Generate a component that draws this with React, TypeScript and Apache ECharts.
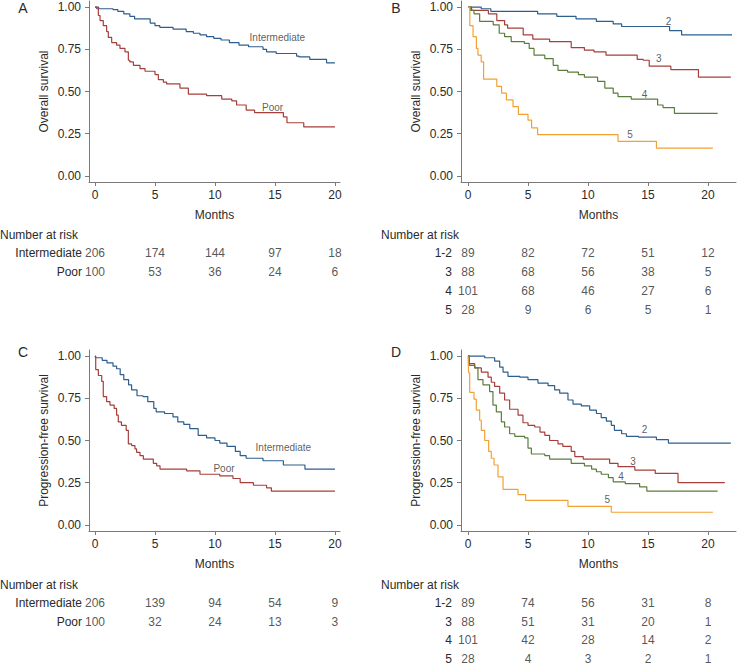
import React, { useEffect, useRef } from "react";
import * as echarts from "echarts";

// ---------- Data ----------
const tickValuesX = [0, 5, 10, 15, 20];
const tickValuesY = [0, 0.25, 0.5, 0.75, 1];
const riskTimes = [0, 5, 10, 15, 20];

// Panel A: Overall survival by risk group
const osIntT = [0, 0.3, 1.5, 1.9, 2.4, 2.9, 3.3, 4.6, 5.0, 5.4, 6.5, 7.6, 8.2, 8.75, 9.3, 9.9, 10.5, 11.2, 12.0, 12.8, 14.0, 14.3, 15.1, 16.8, 17.0, 17.9, 19.3, 20.0];
const osIntS = [1, 0.99, 0.985, 0.975, 0.96, 0.945, 0.93, 0.905, 0.89, 0.88, 0.87, 0.855, 0.845, 0.835, 0.825, 0.815, 0.805, 0.79, 0.775, 0.765, 0.75, 0.735, 0.725, 0.71, 0.705, 0.69, 0.67, 0.67];
const osPoorT = [0, 0.14, 0.28, 0.42, 0.69, 0.97, 1.11, 1.39, 1.8, 2.08, 2.5, 2.78, 2.9, 3.2, 3.75, 4.17, 5.0, 5.28, 5.7, 5.97, 7.08, 7.78, 9.3, 10.56, 11.4, 11.8, 12.6, 13.3, 15.7, 16.0, 17.4, 20.0];
const osPoorS = [1, 0.99, 0.95, 0.92, 0.89, 0.855, 0.82, 0.79, 0.775, 0.755, 0.735, 0.685, 0.675, 0.655, 0.635, 0.62, 0.6, 0.57, 0.555, 0.545, 0.52, 0.485, 0.475, 0.455, 0.445, 0.42, 0.39, 0.375, 0.35, 0.315, 0.29, 0.29];

// Panel B: Overall survival by score
const osS2T = [0, 1.1, 1.9, 5.8, 7.4, 9.0, 10.7, 12.1, 12.8, 16.8, 17.8, 22.0];
const osS2S = [1, 0.99, 0.975, 0.96, 0.945, 0.93, 0.915, 0.9, 0.885, 0.86, 0.835, 0.835];
const osS3T = [0, 0.3, 1.7, 2.4, 3.05, 3.3, 4.6, 5.4, 6.8, 8.6, 9.7, 10.5, 11.5, 14.1, 14.6, 15.1, 16.9, 19.2, 21.9];
const osS3S = [1, 0.98, 0.96, 0.92, 0.895, 0.875, 0.835, 0.81, 0.795, 0.76, 0.745, 0.735, 0.715, 0.69, 0.685, 0.65, 0.63, 0.585, 0.585];
const osS4T = [0, 0.2, 0.5, 0.97, 2.1, 2.6, 3.05, 3.6, 4.7, 5.1, 5.5, 6.4, 7.1, 7.5, 8.3, 9.2, 9.7, 10.8, 11.4, 12.1, 12.5, 13.6, 15.8, 16.25, 17.2, 20.8];
const osS4S = [1, 0.98, 0.96, 0.915, 0.895, 0.845, 0.825, 0.795, 0.785, 0.755, 0.715, 0.695, 0.655, 0.625, 0.615, 0.6, 0.585, 0.56, 0.52, 0.49, 0.47, 0.455, 0.42, 0.405, 0.37, 0.37];
const osS5T = [0, 0.15, 0.42, 0.7, 0.83, 1.1, 1.3, 2.4, 2.8, 3.2, 3.75, 4.2, 5.0, 5.3, 5.8, 12.5, 15.7, 20.4];
const osS5S = [1, 0.89, 0.825, 0.755, 0.715, 0.675, 0.573, 0.53, 0.49, 0.45, 0.41, 0.365, 0.33, 0.285, 0.245, 0.205, 0.165, 0.165];

// Panel C: Progression-free survival by risk group
const pfsIntT = [0, 0.05, 0.6, 1.0, 1.5, 1.8, 2.1, 2.4, 2.8, 3.05, 3.5, 4.0, 4.4, 4.9, 5.1, 5.8, 6.5, 6.9, 7.4, 7.9, 8.6, 9.3, 10.0, 10.4, 11.0, 11.7, 12.1, 12.6, 14.0, 15.7, 17.5, 20.0];
const pfsIntS = [1, 0.99, 0.975, 0.96, 0.94, 0.925, 0.89, 0.86, 0.83, 0.8, 0.765, 0.76, 0.73, 0.69, 0.67, 0.66, 0.64, 0.61, 0.595, 0.57, 0.53, 0.515, 0.5, 0.485, 0.465, 0.435, 0.41, 0.395, 0.38, 0.355, 0.33, 0.33];
const pfsPoorT = [0, 0.06, 0.28, 0.56, 0.69, 0.97, 1.25, 1.6, 1.8, 1.94, 2.2, 2.6, 2.78, 3.05, 3.33, 3.47, 3.75, 4.03, 4.86, 5.14, 5.42, 7.64, 8.75, 10.4, 11.5, 12.1, 13.2, 14.3, 14.7, 20.0];
const pfsPoorS = [1, 0.92, 0.885, 0.85, 0.76, 0.73, 0.71, 0.69, 0.65, 0.61, 0.59, 0.56, 0.48, 0.47, 0.45, 0.43, 0.41, 0.39, 0.365, 0.35, 0.33, 0.32, 0.3, 0.29, 0.275, 0.25, 0.235, 0.22, 0.2, 0.2];

// Panel D: Progression-free survival by score
const pfsS2T = [0, 1.39, 2.22, 2.64, 2.92, 3.33, 4.31, 5.0, 5.83, 6.67, 7.22, 7.64, 8.33, 8.75, 9.44, 10.14, 10.7, 11.1, 11.53, 11.94, 12.2, 12.8, 13.2, 14.2, 15.7, 16.7, 21.9];
const pfsS2S = [1, 0.99, 0.97, 0.935, 0.905, 0.88, 0.875, 0.86, 0.84, 0.825, 0.8, 0.78, 0.74, 0.715, 0.705, 0.68, 0.66, 0.635, 0.615, 0.59, 0.56, 0.54, 0.525, 0.52, 0.505, 0.485, 0.485];
const pfsS3T = [0, 0.1, 0.56, 1.11, 1.67, 1.94, 2.22, 2.64, 3.05, 3.47, 4.17, 4.58, 5.0, 5.56, 6.0, 6.4, 6.8, 7.5, 7.9, 8.6, 8.9, 9.6, 11.8, 12.5, 13.9, 15.6, 17.5, 21.4];
const pfsS3S = [1, 0.955, 0.93, 0.905, 0.875, 0.845, 0.82, 0.78, 0.74, 0.685, 0.65, 0.605, 0.59, 0.58, 0.55, 0.53, 0.5, 0.48, 0.465, 0.435, 0.405, 0.39, 0.365, 0.345, 0.325, 0.305, 0.25, 0.25];
const pfsS4T = [0, 0.1, 0.56, 0.83, 1.25, 1.8, 2.08, 2.36, 2.78, 3.05, 3.47, 3.9, 4.72, 5.0, 5.28, 6.4, 6.8, 8.6, 9.7, 10.3, 10.7, 11.1, 11.7, 12.1, 13.1, 14.3, 14.9, 20.8];
const pfsS4S = [1, 0.945, 0.93, 0.86, 0.83, 0.79, 0.71, 0.67, 0.61, 0.58, 0.54, 0.525, 0.515, 0.455, 0.42, 0.41, 0.39, 0.365, 0.35, 0.33, 0.315, 0.3, 0.28, 0.255, 0.245, 0.225, 0.2, 0.2];
const pfsS5T = [0, 0.05, 0.14, 0.5, 0.69, 0.97, 1.11, 1.39, 1.72, 1.94, 2.17, 2.5, 2.92, 4.17, 4.8, 8.33, 11.94, 20.4];
const pfsS5S = [1, 0.9, 0.785, 0.745, 0.68, 0.62, 0.56, 0.5, 0.435, 0.395, 0.355, 0.285, 0.21, 0.18, 0.145, 0.11, 0.075, 0.075];

// Number at risk
const groupRows = ["Intermediate", "Poor"];
const scoreRows = ["1-2", "3", "4", "5"];
const osRiskInt = [206, 174, 144, 97, 18];
const osRiskPoor = [100, 53, 36, 24, 6];
const osRisk12 = [89, 82, 72, 51, 12];
const osRisk3 = [88, 68, 56, 38, 5];
const osRisk4 = [101, 68, 46, 27, 6];
const osRisk5 = [28, 9, 6, 5, 1];
const pfsRiskInt = [206, 139, 94, 54, 9];
const pfsRiskPoor = [100, 32, 24, 13, 3];
const pfsRisk12 = [89, 74, 56, 31, 8];
const pfsRisk3 = [88, 51, 31, 20, 1];
const pfsRisk4 = [101, 42, 28, 14, 2];
const pfsRisk5 = [28, 4, 3, 2, 1];

// Curve labels [x, y, text]
const labelsA = [[15.2, 0.817, "Intermediate"], [14.8, 0.408, "Poor"]];
const labelsB = [[16.7, 0.917, "2"], [15.9, 0.698, "3"], [14.7, 0.485, "4"], [13.5, 0.243, "5"]];
const labelsC = [[15.7, 0.46, "Intermediate"], [10.75, 0.337, "Poor"]];
const labelsD = [[14.7, 0.568, "2"], [13.75, 0.373, "3"], [12.75, 0.284, "4"], [11.6, 0.148, "5"]];

// ---------- Styling ----------
const FONT = "'Liberation Sans', Arial, Helvetica, sans-serif";
const BLUE = "#2d5e8e";
const RED = "#a63f3a";
const GREEN = "#5c7c3c";
const ORANGE = "#f3a133";
const AXIS = "#7a7a7a";
const TEXT = "#2a2a2a";

const km = (t: number[], s: number[]) => t.map((x, i) => [x, s[i]]);

export default function App() {
  const ref = useRef<HTMLDivElement>(null);

  useEffect(() => {
    if (!ref.current) return;
    const chart = echarts.init(ref.current, null, { renderer: "svg" });

    const plotGrids = [
      { left: 89, top: 1, width: 251, height: 181 },
      { left: 461, top: 1, width: 275, height: 181 },
      { left: 89, top: 350, width: 251, height: 181 },
      { left: 461, top: 350, width: 275, height: 181 },
    ];
    const xRanges = [
      [-0.5, 20.42],
      [-0.583, 22.33],
      [-0.5, 20.42],
      [-0.583, 22.33],
    ];
    const yNames = ["Overall survival", "Overall survival", "Progression-free survival", "Progression-free survival"];
    const riskGrids = [
      { left: 89, top: 243.9, width: 251, height: 38 },
      { left: 461, top: 243.9, width: 275, height: 75.2 },
      { left: 89, top: 593.9, width: 251, height: 38 },
      { left: 461, top: 593.9, width: 275, height: 75.2 },
    ];
    const riskRows = [groupRows, scoreRows, groupRows, scoreRows];
    const riskData = [
      [osRiskInt, osRiskPoor],
      [osRisk12, osRisk3, osRisk4, osRisk5],
      [pfsRiskInt, pfsRiskPoor],
      [pfsRisk12, pfsRisk3, pfsRisk4, pfsRisk5],
    ];
    const riskMargins = [7, 9, 7, 9];

    const grids: any[] = [...plotGrids, ...riskGrids];

    const xAxes: any[] = [];
    const yAxes: any[] = [];
    for (let i = 0; i < 4; i++) {
      xAxes.push({
        type: "value",
        gridIndex: i,
        min: xRanges[i][0],
        max: xRanges[i][1],
        name: "Months",
        nameLocation: "middle",
        nameGap: 27,
        nameTextStyle: { fontFamily: FONT, fontSize: 12, color: TEXT },
        axisLine: { show: true, onZero: false, lineStyle: { color: AXIS, width: 1 } },
        axisTick: { show: true, length: 4, customValues: tickValuesX, lineStyle: { color: AXIS } },
        axisLabel: { show: true, customValues: tickValuesX, margin: 7, fontFamily: FONT, fontSize: 12, color: TEXT },
        splitLine: { show: false },
      });
      yAxes.push({
        type: "value",
        gridIndex: i,
        min: -0.036,
        max: 1.036,
        name: yNames[i],
        nameLocation: "middle",
        nameGap: 39,
        nameTextStyle: { fontFamily: FONT, fontSize: 12, color: TEXT },
        axisLine: { show: true, onZero: false, lineStyle: { color: AXIS, width: 1 } },
        axisTick: { show: true, length: 4, customValues: tickValuesY, lineStyle: { color: AXIS } },
        axisLabel: {
          show: true,
          customValues: tickValuesY,
          margin: 8,
          fontFamily: FONT,
          fontSize: 12,
          color: TEXT,
          formatter: (v: number) => v.toFixed(2),
        },
        splitLine: { show: false },
      });
    }
    for (let i = 0; i < 4; i++) {
      xAxes.push({
        type: "value",
        gridIndex: 4 + i,
        min: xRanges[i][0],
        max: xRanges[i][1],
        show: false,
      });
      yAxes.push({
        type: "category",
        gridIndex: 4 + i,
        data: riskRows[i],
        inverse: true,
        axisLine: { show: false },
        axisTick: { show: false },
        splitLine: { show: false },
        axisLabel: { margin: riskMargins[i], fontFamily: FONT, fontSize: 12, color: TEXT },
      });
    }

    const line = (idx: number, t: number[], s: number[], color: string) => ({
      type: "line",
      xAxisIndex: idx,
      yAxisIndex: idx,
      data: km(t, s),
      step: "end",
      showSymbol: false,
      symbol: "none",
      silent: true,
      lineStyle: { color, width: 1.2 },
      z: 3,
    });

    const labelSeries = (idx: number, labels: any[]) => ({
      type: "scatter",
      xAxisIndex: idx,
      yAxisIndex: idx,
      symbolSize: 0,
      silent: true,
      itemStyle: { color: "#333333" },
      data: labels.map((l) => ({ value: [l[0], l[1]], name: l[2] })),
      label: {
        show: true,
        position: "inside",
        formatter: (p: any) => p.name,
        fontFamily: FONT,
        fontSize: 10,
        color: "#333333",
        textBorderWidth: 0,
      },
      z: 5,
    });

    const series: any[] = [
      line(0, osIntT, osIntS, BLUE),
      line(0, osPoorT, osPoorS, RED),
      line(1, osS2T, osS2S, BLUE),
      line(1, osS3T, osS3S, RED),
      line(1, osS4T, osS4S, GREEN),
      line(1, osS5T, osS5S, ORANGE),
      line(2, pfsIntT, pfsIntS, BLUE),
      line(2, pfsPoorT, pfsPoorS, RED),
      line(3, pfsS2T, pfsS2S, BLUE),
      line(3, pfsS3T, pfsS3S, RED),
      line(3, pfsS4T, pfsS4S, GREEN),
      line(3, pfsS5T, pfsS5S, ORANGE),
      labelSeries(0, labelsA),
      labelSeries(1, labelsB),
      labelSeries(2, labelsC),
      labelSeries(3, labelsD),
    ];

    for (let i = 0; i < 4; i++) {
      const pts: any[] = [];
      riskData[i].forEach((row, r) => {
        row.forEach((v, j) => pts.push([riskTimes[j], r, v]));
      });
      series.push({
        type: "scatter",
        xAxisIndex: 4 + i,
        yAxisIndex: 4 + i,
        symbolSize: 0,
        silent: true,
        itemStyle: { color: TEXT },
        data: pts,
        label: {
          show: true,
          position: "inside",
          formatter: (p: any) => String(p.value[2]),
          fontFamily: FONT,
          fontSize: 12,
          color: TEXT,
          textBorderWidth: 0,
        },
      });
    }

    const letter = (text: string, x: number, y: number) => ({
      type: "text",
      x,
      y,
      style: { text, fontFamily: FONT, fontSize: 14, fill: TEXT, align: "center", verticalAlign: "middle" },
    });
    const riskTitle = (x: number, y: number) => ({
      type: "text",
      x,
      y,
      style: { text: "Number at risk", fontFamily: FONT, fontSize: 12, fill: TEXT, align: "left", verticalAlign: "middle" },
    });

    chart.setOption({
      animation: false,
      backgroundColor: "#ffffff",
      grid: grids,
      xAxis: xAxes,
      yAxis: yAxes,
      series,
      graphic: [
        letter("A", 23, 8),
        letter("B", 396, 8),
        letter("C", 23, 352),
        letter("D", 396, 352),
        riskTitle(0, 235),
        riskTitle(381, 235),
        riskTitle(0, 585),
        riskTitle(381, 585),
      ],
    });

    return () => chart.dispose();
  }, []);

  return (
    <div
      ref={ref}
      style={{ position: "fixed", left: 0, top: 0, width: 738, height: 668, background: "#fff" }}
    />
  );
}
